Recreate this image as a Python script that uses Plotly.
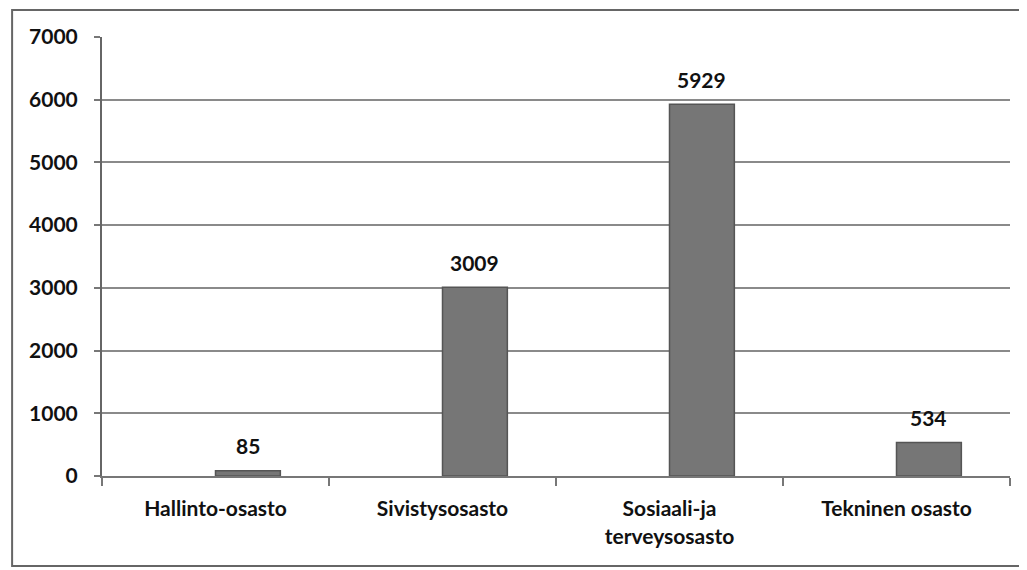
import plotly.graph_objects as go

categories = ["Hallinto-osasto", "Sivistysosasto", "Sosiaali-ja<br>terveysosasto", "Tekninen osasto"]
empty_series = [None, None, None, None]
values = [85, 3009, 5929, 534]
tick_vals = [0, 1000, 2000, 3000, 4000, 5000, 6000, 7000]
tick_text = ["0", "1000", "2000", "3000", "4000", "5000", "6000", "7000"]

font_family = "Lato, 'Open Sans', sans-serif"
fnt = dict(family=font_family, size=21, color="#111111", weight="bold")

fig = go.Figure()
fig.add_trace(go.Bar(x=categories, y=empty_series, marker_color="#777777", showlegend=False))
fig.add_trace(go.Bar(x=categories, y=values, marker=dict(color="#767676", line=dict(color="#555555", width=1.5)),
                     showlegend=False))

for c, v in zip(categories, values):
    fig.add_annotation(x=c, y=v, xref="x", yref="y", text=str(v), showarrow=False,
                       xshift=32, yshift=25, font=fnt)

fig.update_layout(
    width=1019, height=562,
    margin=dict(l=94, r=17, t=29, b=94),
    paper_bgcolor="white", plot_bgcolor="white",
    barmode="group", bargap=0.4286, bargroupgap=0,
    font=fnt,
    xaxis=dict(showline=True, linecolor="#777777", linewidth=2, ticks="outside", tickson="boundaries",
               ticklen=8, tickcolor="#777777", tickwidth=2, ticklabelstandoff=13,
               tickfont=fnt, showgrid=False),
    yaxis=dict(range=[0, 7000], tickvals=tick_vals, ticktext=tick_text, showline=True,
               linecolor="#666666", linewidth=2, ticks="outside", ticklen=6, tickcolor="#777777",
               tickwidth=2, showgrid=True, gridcolor="#8a8a8a", gridwidth=2, zeroline=False,
               ticklabelstandoff=12, tickfont=fnt),
    shapes=[dict(type="rect", xref="paper", yref="paper", x0=-0.099, x1=1.015, y0=-0.205, y1=1.0615,
                 line=dict(color="#666666", width=2), fillcolor="rgba(0,0,0,0)", layer="below")],
)

fig.write_html("out.html")
